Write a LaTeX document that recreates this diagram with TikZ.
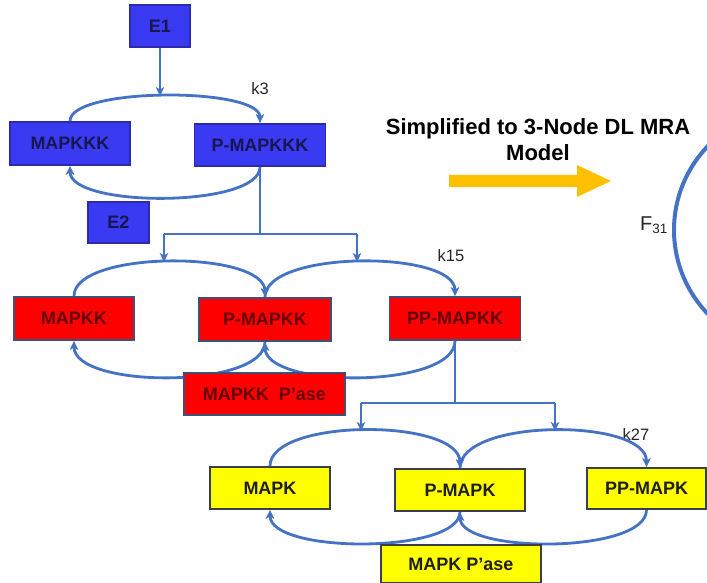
\documentclass[tikz,border=0pt]{standalone}
\usepackage{fontspec}
\setmainfont{Liberation Sans}
\usetikzlibrary{arrows.meta}
\definecolor{bfill}{RGB}{58,58,242}
\definecolor{bdraw}{RGB}{44,44,170}
\definecolor{btext}{RGB}{22,22,80}
\definecolor{rfill}{RGB}{255,0,0}
\definecolor{rdraw}{RGB}{63,79,120}
\definecolor{rtext}{RGB}{100,0,0}
\definecolor{yfill}{RGB}{255,255,0}
\definecolor{ydraw}{RGB}{58,63,74}
\definecolor{ytext}{RGB}{30,30,30}
\definecolor{conn}{RGB}{68,114,196}
\definecolor{gold}{RGB}{255,192,0}
\tikzset{
  box/.style={draw, line width=1.8pt, inner sep=0pt, font=\fontsize{18}{20}\selectfont\bfseries},
  bluebox/.style={box, fill=bfill, draw=bdraw, text=btext},
  redbox/.style={box, fill=rfill, draw=rdraw, text=rtext},
  yelbox/.style={box, fill=yfill, draw=ydraw, text=ytext},
  link/.style={draw=conn, line width=2.8pt},
  arr/.style={link, -{Stealth[length=9pt,width=8.5pt,inset=2.5pt]}},
  klabel/.style={font=\fontsize{16.5}{18}\selectfont, text=black!85}
}
\begin{document}
\begin{tikzpicture}[x=1pt,y=-1pt]
\useasboundingbox (0,0) rectangle (707,583);

% large circle (partially visible)
\begin{scope}
\clip (0,0) rectangle (707,583);
\draw[conn, line width=4pt] (795,230) circle[radius=121];
\end{scope}

% ---------- layer 1 (blue) ----------
\node[bluebox, minimum width=60pt, minimum height=42pt] (e1) at (160,26) {E1};
\node[bluebox, minimum width=120pt, minimum height=43pt] (mapkkk) at (70,143.5) {MAPKKK};
\node[bluebox, minimum width=131pt, minimum height=42pt] (pmapkkk) at (260,145) {P-MAPKKK};
\node[bluebox, minimum width=61pt, minimum height=41pt] (e2) at (118.5,222.5) {E2};
\node[klabel] (k3) at (260,89) {k3};

\coordinate (top1) at (160,96);
\draw[arr] (mapkkk.north) .. controls (70,87) and (260,87) .. (pmapkkk.north);
\draw[arr] (e1.south) -- (top1);
\draw[arr] (pmapkkk.south) .. controls (260,208) and (70,208) .. (mapkkk.south);

% branch to layer 2
\coordinate (br1) at (260,234);
\coordinate (br1l) at (164,234);
\coordinate (br1r) at (357,234);
\coordinate (top2l) at (164,262);
\coordinate (top2r) at (357,262);
\draw[link] (pmapkkk.south) -- (br1);
\draw[link] (br1l) -- (br1r);
\draw[arr] (br1l) -- (top2l);
\draw[arr] (br1r) -- (top2r);

% ---------- layer 2 (red) ----------
\node[redbox, minimum width=120pt, minimum height=43pt] (mapkk) at (74,318.5) {MAPKK};
\node[redbox, minimum width=132pt, minimum height=43pt] (pmapkk) at (265,319.5) {P-MAPKK};
\node[redbox, minimum width=131pt, minimum height=43pt] (ppmapkk) at (455,318.5) {PP-MAPKK};
\node[klabel] (k15) at (451,256) {k15};

\draw[arr] (mapkk.north) .. controls (74,250) and (265,250) .. (pmapkk.north);
\draw[arr] (pmapkk.north) .. controls (265,250) and (455,250) .. (ppmapkk.north);
\draw[arr] (pmapkk.south) .. controls (265,389) and (74,389) .. (mapkk.south);
\draw[arr] (ppmapkk.south) .. controls (455,389) and (265,389) .. (pmapkk.south);

\node[redbox, minimum width=161pt, minimum height=42pt] (mapkkpase) at (264.5,394) {MAPKK\ \ P'ase};

% branch to layer 3
\coordinate (br2) at (455,403);
\coordinate (br2l) at (361,403);
\coordinate (br2r) at (555,403);
\coordinate (top3l) at (361,431);
\coordinate (top3r) at (555,431);
\draw[link] (ppmapkk.south) -- (br2);
\draw[link] (br2l) -- (br2r);
\draw[arr] (br2l) -- (top3l);
\draw[arr] (br2r) -- (top3r);

% ---------- layer 3 (yellow) ----------
\node[yelbox, minimum width=120pt, minimum height=42pt] (mapk) at (270,488) {MAPK};
\node[yelbox, minimum width=130pt, minimum height=42pt] (pmapk) at (460,490) {P-MAPK};
\node[yelbox, minimum width=119pt, minimum height=41pt] (ppmapk) at (646.5,488.5) {PP-MAPK};
\node[klabel] (k27) at (636,435) {k27};

\draw[arr] (mapk.north) .. controls (270,418) and (460,418) .. (pmapk.north);
\draw[arr] (pmapk.north) .. controls (460,418) and (646.5,418) .. (ppmapk.north);
\draw[arr] (pmapk.south) .. controls (460,554) and (270,554) .. (mapk.south);
\draw[arr] (ppmapk.south) .. controls (646.5,554) and (460,554) .. (pmapk.south);

\node[yelbox, minimum width=160pt, minimum height=38pt] (mapkpase) at (461,564) {MAPK P'ase};

% ---------- title and big arrow ----------
\node[font=\fontsize{22}{26}\selectfont\bfseries, align=center] (title) at (538,140) {Simplified to 3-Node DL MRA\\Model};
\fill[gold] (449,175) -- (577,175) -- (577,165) -- (611,181) -- (577,197) -- (577,187) -- (449,187) -- cycle;
\node[font=\fontsize{20}{22}\selectfont, text=black!85] (f31) at (654,225) {F\textsubscript{\fontsize{13.5}{15}\selectfont 31}};
\end{tikzpicture}
\end{document}
